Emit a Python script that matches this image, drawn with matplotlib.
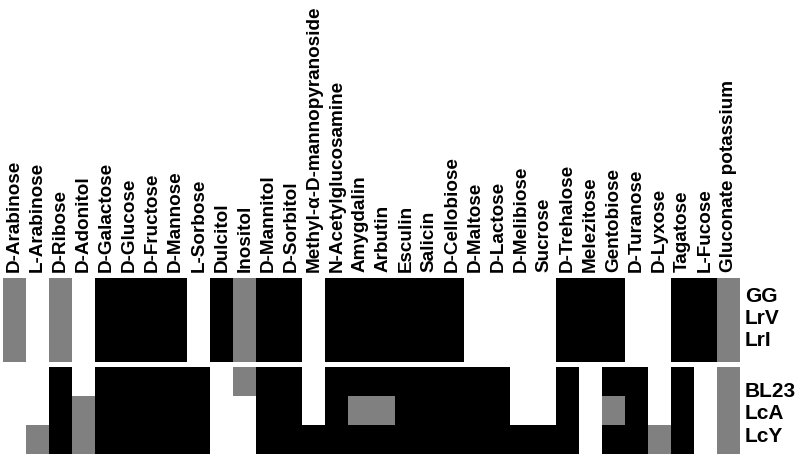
"""Carbohydrate fermentation profile (API 50 CH style) as a two-block heatmap."""

import matplotlib.pyplot as plt
import numpy as np
from matplotlib.colors import ListedColormap

sugars = [
    "D-Arabinose", "L-Arabinose", "D-Ribose", "D-Adonitol", "D-Galactose",
    "D-Glucose", "D-Fructose", "D-Mannose", "L-Sorbose", "Dulcitol",
    "Inositol", "D-Mannitol", "D-Sorbitol", "Methyl-α-D-mannopyranoside",
    "N-Acetylglucosamine", "Amygdalin", "Arbutin", "Esculin", "Salicin",
    "D-Cellobiose", "D-Maltose", "D-Lactose", "D-Melibiose", "Sucrose",
    "D-Trehalose", "Melezitose", "Gentobiose", "D-Turanose", "D-Lyxose",
    "Tagatose", "L-Fucose", "Gluconate potassium",
]

top_strains = ["GG", "LrV", "LrI"]
bottom_strains = ["BL23", "LcA", "LcY"]

# 0 = negative, 1 = weak, 2 = positive
gg = [1, 0, 1, 0, 2, 2, 2, 2, 0, 2, 1, 2, 2, 0, 2, 2, 2, 2, 2, 2, 0, 0, 0, 0, 2, 2, 2, 0, 0, 2, 2, 1]
lrv = [1, 0, 1, 0, 2, 2, 2, 2, 0, 2, 1, 2, 2, 0, 2, 2, 2, 2, 2, 2, 0, 0, 0, 0, 2, 2, 2, 0, 0, 2, 2, 1]
lri = [1, 0, 1, 0, 2, 2, 2, 2, 0, 2, 1, 2, 2, 0, 2, 2, 2, 2, 2, 2, 0, 0, 0, 0, 2, 2, 2, 0, 0, 2, 2, 1]
bl23 = [0, 0, 2, 0, 2, 2, 2, 2, 2, 0, 1, 2, 2, 0, 2, 2, 2, 2, 2, 2, 2, 2, 0, 0, 2, 0, 2, 2, 0, 2, 0, 1]
lca = [0, 0, 2, 1, 2, 2, 2, 2, 2, 0, 0, 2, 2, 0, 2, 1, 1, 2, 2, 2, 2, 2, 0, 0, 2, 0, 1, 2, 0, 2, 0, 1]
lcy = [0, 1, 2, 1, 2, 2, 2, 2, 2, 0, 0, 2, 2, 2, 2, 2, 2, 2, 2, 2, 2, 2, 2, 2, 2, 0, 2, 2, 1, 2, 0, 1]

plt.rcParams["font.family"] = ["Liberation Sans", "DejaVu Sans"]
plt.rcParams["font.weight"] = "bold"

cmap = ListedColormap(["#ffffff", "#808080", "#000000"])

W, H = 800, 457
fig = plt.figure(figsize=(W / 100, H / 100), dpi=100)
fig.patch.set_facecolor("white")

left = 3 / W
width = 737 / W
ax_top = fig.add_axes([left, 1 - 362 / H, width, 84 / H])
ax_bot = fig.add_axes([left, 1 - 454 / H, width, 87 / H])

# (axes, values, strain names, vertical centre of the label block in axes fraction)
blocks = [
    (ax_top, np.array([gg, lrv, lri]), top_strains, 0.52),
    (ax_bot, np.array([bl23, lca, lcy]), bottom_strains, 0.46),
]

for ax, data, strains, label_y in blocks:
    ax.pcolormesh(data, cmap=cmap, vmin=0, vmax=2)
    ax.set_xlim(0, len(sugars))
    ax.set_ylim(len(strains), 0)
    for side in ax.spines.values():
        side.set_visible(False)
    ax.set_yticks([])
    ax.set_xticks([])
    ax.text(1.0 + 5 / 737, label_y, "\n".join(strains), transform=ax.transAxes,
            ha="left", va="center", fontsize=15, fontweight="bold",
            linespacing=1.22)

ax_top.xaxis.tick_top()
ax_top.set_xticks(np.arange(len(sugars)) + 0.5)
ax_top.set_xticklabels(sugars, rotation=90, fontsize=13.6, fontweight="bold")
ax_top.tick_params(axis="x", length=0, pad=4)

fig.savefig("out.png", dpi=100)
